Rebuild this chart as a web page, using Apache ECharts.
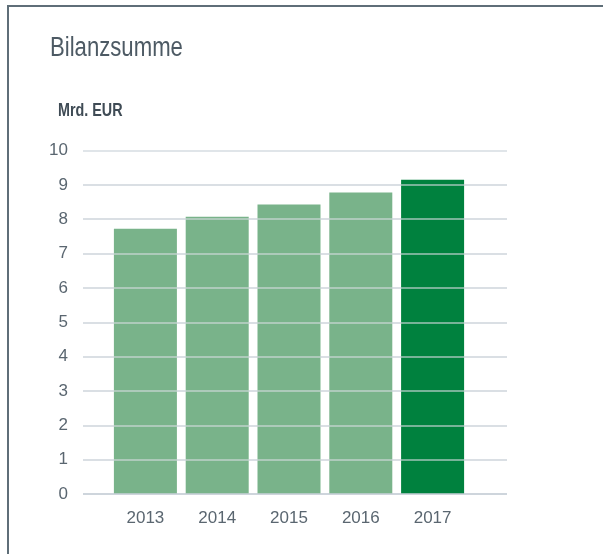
<!DOCTYPE html>
<html>
<head>
<meta charset="utf-8">
<script src="https://cdn.jsdelivr.net/npm/echarts@6/dist/echarts.min.js"></script>
<style>
  html, body { margin: 0; padding: 0; background: #fff; }
  #frame {
    position: absolute; left: 7px; top: 5px; width: 700px; height: 700px;
    border-left: 2px solid #5f6e78; border-top: 2px solid #5f6e78;
  }
  #main { position: absolute; left: 0; top: 0; width: 603px; height: 554px; }
</style>
</head>
<body>
<div id="frame"></div>
<div id="main"></div>
<script>
const years = ['2013', '2014', '2015', '2016', '2017']
const totals = [7.72, 8.07, 8.43, 8.78, 9.15]
const yTicks = [0, 10, 1]  // min, max, interval

const LIGHT = '#79b38a'
const DARK = '#00813e'
const TEXT = '#5a6670'
const FONT = "'Liberation Sans', Arial, sans-serif"

const chart = echarts.init(document.getElementById('main'))

const option = {
  animation: false,
  // narrow (condensed) look for the headings: squeeze Liberation Sans horizontally
  graphic: [
    {
      type: 'text', x: 50, y: 35, scaleX: 0.82, silent: true,
      style: { text: 'Bilanzsumme', font: '27px ' + FONT, fill: '#4d5a64',
        verticalAlign: 'top', textVerticalAlign: 'top' }
    },
    {
      type: 'text', x: 58, y: 102.5, scaleX: 0.82, silent: true,
      style: { text: 'Mrd. EUR', font: 'bold 17.5px ' + FONT, fill: '#3f4b55',
        verticalAlign: 'top', textVerticalAlign: 'top' }
    }
  ],
  grid: [
    // wide grid: only carries the y scale and gridlines
    { left: 83, right: 96, top: 150.5, bottom: 60 },
    // narrow grid: bars
    { left: 109.5, right: 134.5, top: 150.5, bottom: 60 }
  ],
  xAxis: [
    { gridIndex: 0, type: 'category', data: years, show: false },
    {
      gridIndex: 1, type: 'category', data: years,
      axisLine: { show: false }, axisTick: { show: false },
      axisLabel: { fontFamily: FONT, fontSize: 17, color: TEXT, margin: 16 }
    }
  ],
  yAxis: [
    {
      gridIndex: 0, type: 'value', min: yTicks[0], max: yTicks[1], interval: yTicks[2],
      axisLine: { show: false }, axisTick: { show: false },
      splitLine: { lineStyle: { color: '#d6dce2', width: 1.5 } },
      axisLabel: { fontFamily: FONT, fontSize: 17, color: TEXT, margin: 15 }
    },
    {
      gridIndex: 1, type: 'value', min: yTicks[0], max: yTicks[1], interval: yTicks[2],
      show: false, splitLine: { show: false }
    }
  ],
  series: [
    {
      type: 'bar', xAxisIndex: 1, yAxisIndex: 1,
      barWidth: 63, z: 1,
      data: totals.map((v, i) => ({
        value: v,
        itemStyle: { color: i === totals.length - 1 ? DARK : LIGHT }
      }))
    },
    // gridlines drawn over the bars, as in the reference
    {
      type: 'line', xAxisIndex: 0, yAxisIndex: 0, data: [], z: 3,
      markLine: {
        silent: true, symbol: 'none', label: { show: false },
        lineStyle: { color: 'rgba(214,220,226,0.75)', type: 'solid', width: 1.5 },
        data: [1, 2, 3, 4, 5, 6, 7, 8, 9].map(v => ({ yAxis: v }))
      }
    },
    {
      type: 'line', xAxisIndex: 0, yAxisIndex: 0, data: [], z: 3,
      markLine: {
        silent: true, symbol: 'none', label: { show: false },
        lineStyle: { color: '#c9d1d9', type: 'solid', width: 1.5 },
        data: [{ yAxis: 0 }]
      }
    }
  ]
}

chart.setOption(option)
</script>
</body>
</html>
